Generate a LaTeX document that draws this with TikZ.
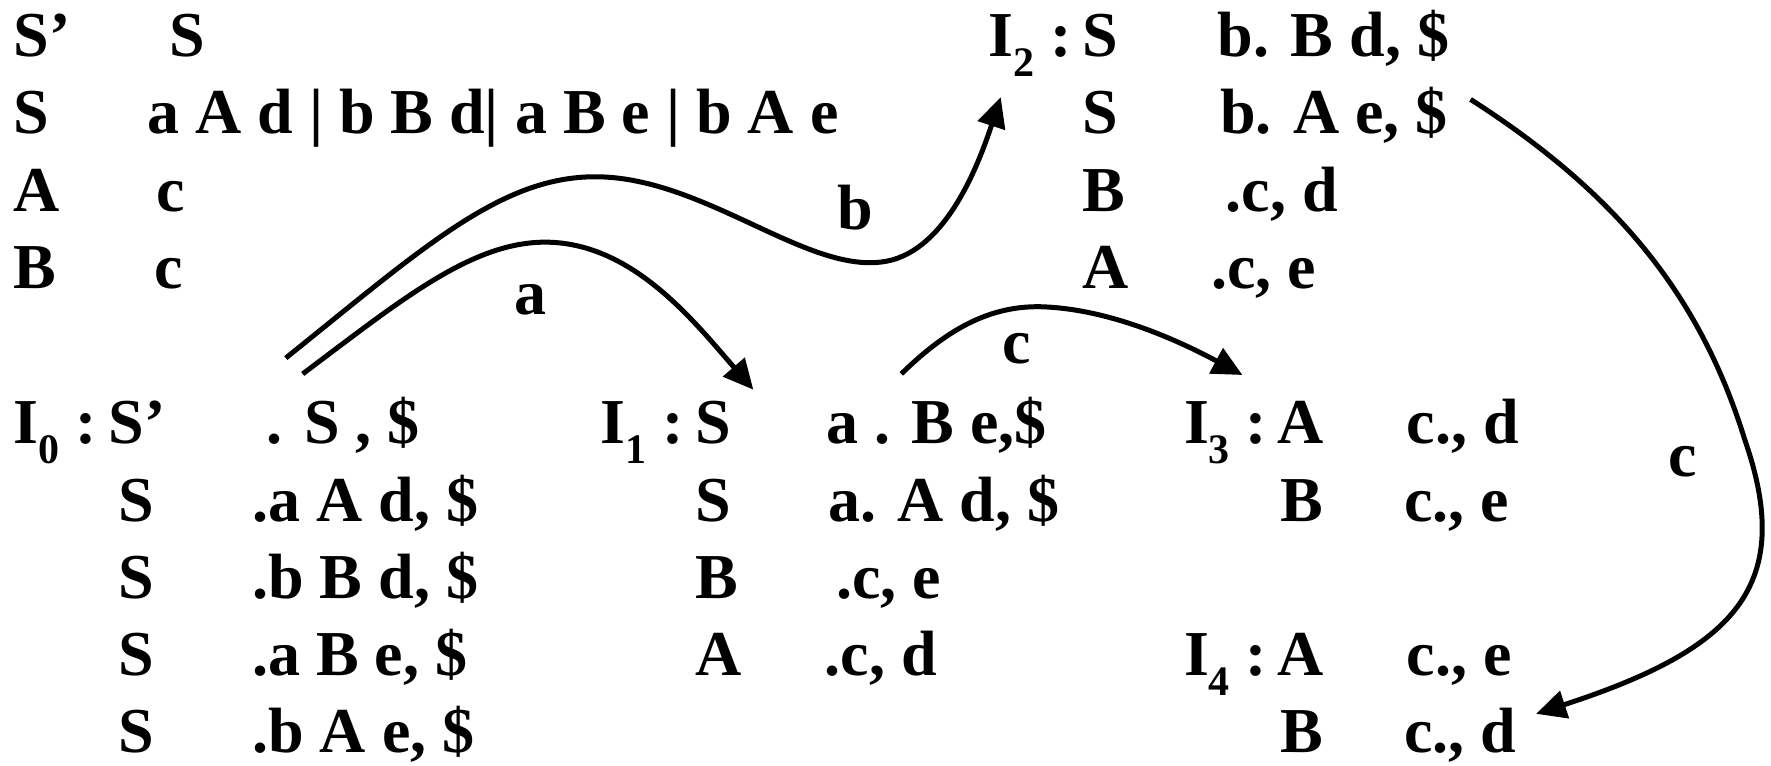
\documentclass[tikz,border=0pt]{standalone}
\usepackage{fontspec}
\setmainfont{Liberation Serif}
\usetikzlibrary{arrows.meta}
\newcommand\isub[1]{\raisebox{-10pt}{\fontsize{21}{21}\selectfont #1}}
\tikzset{
  txt/.style={anchor=base west, inner sep=0pt, font=\fontsize{32}{32}\bfseries\selectfont},
  lbl/.style={anchor=base, inner sep=0pt, font=\fontsize{32}{32}\bfseries\selectfont},
  trans/.style={line width=2.5pt, -{Triangle[length=15pt,width=14pt]}},
}
\begin{document}
\begin{tikzpicture}[x=0.56475pt,y=-0.56475pt]
\useasboundingbox (0,0) rectangle (1568,678);
% grammar
\node[txt] (g1a) at (12,50) {S’};
\node[txt] (g1b) at (150,50) {S};
\node[txt] (g2a) at (12,118) {S};
\node[txt] (g2b) at (130,118) {a A d | b B d| a B e | b A e};
\node[txt] (g3a) at (12,187) {A};
\node[txt] (g3b) at (138,187) {c};
\node[txt] (g4a) at (12,255) {B};
\node[txt] (g4b) at (136,255) {c};
% I2
\node[txt] (i2) at (875,50) {I\isub{2} :};
\node[txt] (i2l1) at (958,50) {S};
\node[txt] (i2r1) at (1078,50) {b. B d, \$};
\node[txt] (i2l2) at (958,118) {S};
\node[txt] (i2r2) at (1080,118) {b. A e, \$};
\node[txt] (i2l3) at (958,187) {B};
\node[txt] (i2r3) at (1085,187) {.c, d};
\node[txt] (i2l4) at (958,255) {A};
\node[txt] (i2r4) at (1072,255) {.c, e};
% I0
\node[txt] (i0) at (12,393) {I\isub{0} :};
\node[txt] (i0l1) at (96,393) {S’};
\node[txt] (i0r1) at (236,393) {. S , \$};
\node[txt] (i0l2) at (105,462) {S};
\node[txt] (i0r2) at (223,462) {.a A d, \$};
\node[txt] (i0l3) at (105,530) {S};
\node[txt] (i0r3) at (223,530) {.b B d, \$};
\node[txt] (i0l4) at (105,598) {S};
\node[txt] (i0r4) at (223,598) {.a B e, \$};
\node[txt] (i0l5) at (105,666) {S};
\node[txt] (i0r5) at (223,666) {.b A e, \$};
% I1
\node[txt] (i1) at (531,393) {I\isub{1} :};
\node[txt] (i1l1) at (615,393) {S};
\node[txt] (i1r1) at (731,393) {a . B e,\$};
\node[txt] (i1l2) at (615,462) {S};
\node[txt] (i1r2) at (733,462) {a. A d, \$};
\node[txt] (i1l3) at (615,530) {B};
\node[txt] (i1r3) at (740,530) {.c, e};
\node[txt] (i1l4) at (615,598) {A};
\node[txt] (i1r4) at (730,598) {.c, d};
% I3
\node[txt] (i3) at (1048,393) {I\isub{3} :};
\node[txt] (i3l1) at (1131,393) {A};
\node[txt] (i3r1) at (1245,393) {c., d};
\node[txt] (i3l2) at (1133,462) {B};
\node[txt] (i3r2) at (1243,462) {c., e};
% I4
\node[txt] (i4) at (1048,598) {I\isub{4} :};
\node[txt] (i4l1) at (1131,598) {A};
\node[txt] (i4r1) at (1245,598) {c., e};
\node[txt] (i4l2) at (1133,666) {B};
\node[txt] (i4r2) at (1243,666) {c., d};
% labels
\node[lbl] (lb) at (757,203) {b};
\node[lbl] (la) at (470,278) {a};
\node[lbl] (lc1) at (900,322) {c};
\node[lbl] (lc2) at (1490,422) {c};
% connector ends
\coordinate (sb) at (253,317);
\coordinate (eb) at (886,86);
\coordinate (sa) at (268,331);
\coordinate (ea) at (667,345);
\coordinate (sc1) at (798,331);
\coordinate (ec1) at (1100,332);
\coordinate (sc2) at (1302,88);
\coordinate (ec2) at (1360,632);
% connectors
\draw[trans] (sb) .. controls (380,215) and (450,150) .. (540,157)
  .. controls (630,164) and (715,240) .. (780,232)
  .. controls (835,226) and (865,150) .. (eb);
\draw[trans] (sa) .. controls (360,262) and (425,208) .. (495,215)
  .. controls (565,222) and (615,285) .. (ea);
\draw[trans] (sc1) .. controls (840,290) and (880,268) .. (930,272)
  .. controls (990,276) and (1050,305) .. (ec1);
\draw[trans] (sc2) .. controls (1430,170) and (1505,260) .. (1545,390)
  .. controls (1590,520) and (1535,575) .. (ec2);
\end{tikzpicture}
\end{document}
